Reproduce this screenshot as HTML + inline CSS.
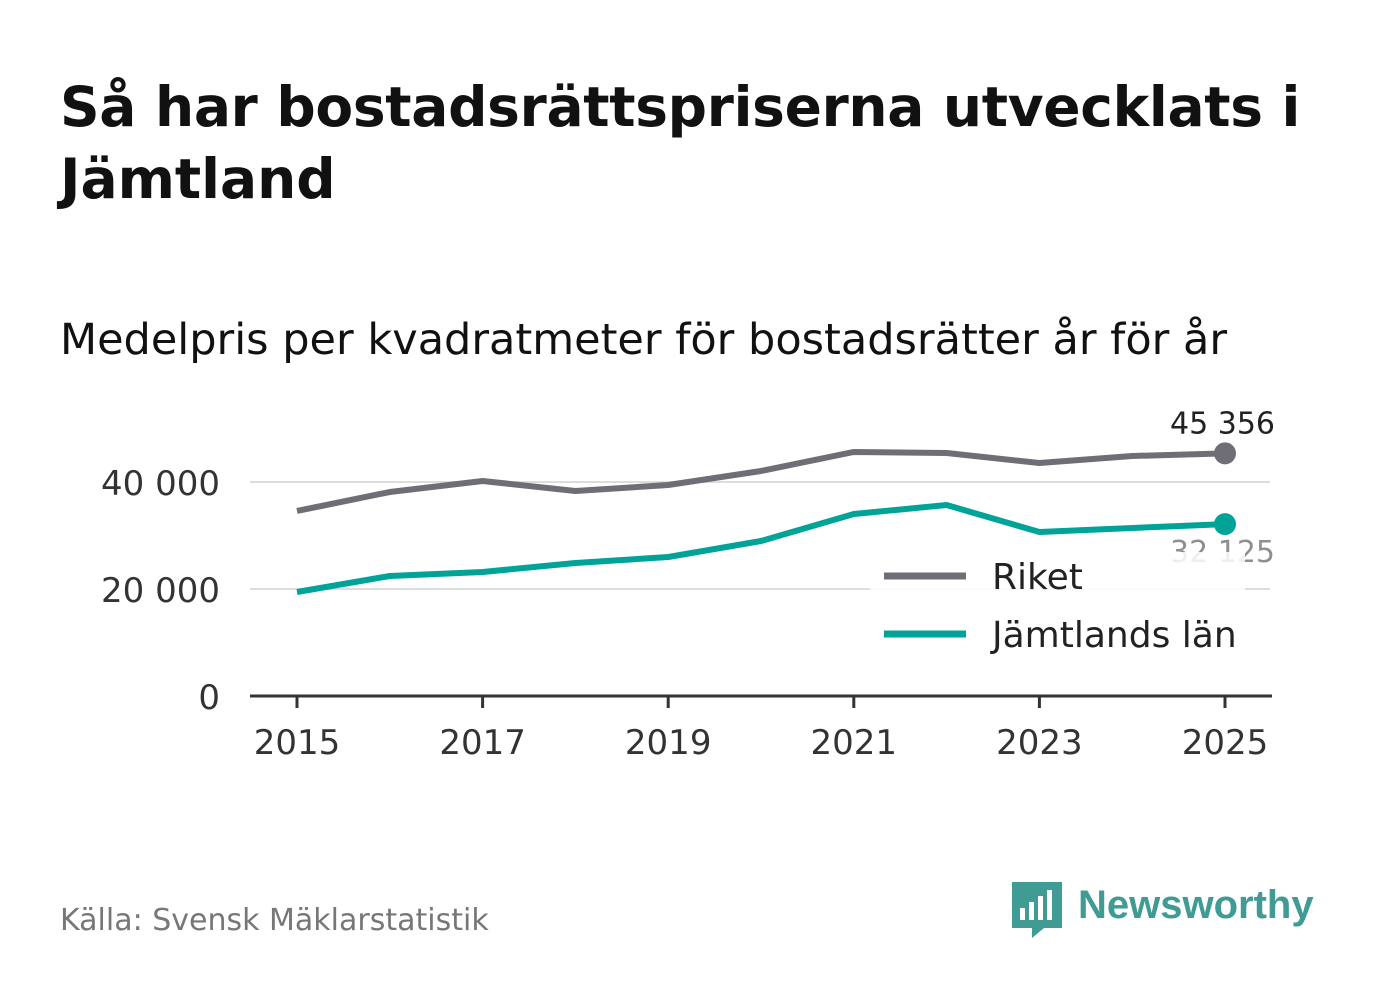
<!DOCTYPE html>
<html><head><meta charset="utf-8"><style>
body{margin:0;background:#fff;width:1382px;height:999px;overflow:hidden;font-family:"DejaVu Sans","Liberation Sans",sans-serif;}
</style></head><body>
<svg width="1382" height="999">
<text x="60" y="126" font-size="55" font-weight="bold" fill="#111" letter-spacing="-0.3">Så har bostadsrättspriserna utvecklats i</text>
<text x="60" y="198" font-size="55" font-weight="bold" fill="#111">Jämtland</text>
<text x="60" y="354" font-size="43" fill="#111">Medelpris per kvadratmeter för bostadsrätter år för år</text>
<g id="plot"></g>
<text x="60" y="930" font-size="30" fill="#777">Källa: Svensk Mäklarstatistik</text>
<g>
<path d="M1012 882h50v46h-18l-12 10v-10h-20z" fill="#3f9b93"/>
<rect x="1020" y="908" width="5" height="12" fill="#fff"/><rect x="1029" y="902" width="5" height="18" fill="#fff"/><rect x="1038" y="896" width="5" height="24" fill="#fff"/><rect x="1047" y="890" width="5" height="30" fill="#fff"/>
<text x="1078" y="918" font-size="40" font-weight="bold" fill="#3f9b93" font-family="Liberation Sans, sans-serif">Newsworthy</text>
</g>
</svg>
<script>
const years=[2015,2016,2017,2018,2019,2020,2021,2022,2023,2024,2025];
const riket=[34580,38130,40190,38320,39440,42060,45610,45420,43550,44860,45356];
const jamt=[19440,22430,23180,24860,25980,28970,34020,35700,30650,31400,32125];
const yTicks=[0,20000,40000];
const xTicks=[2015,2017,2019,2021,2023,2025];
const fmt=v=>v.toLocaleString('en-US').replace(/,/g,' ');
const X=y=>297+(y-2015)*92.8;
const Y=v=>696-v*107/20000;
const g=document.getElementById('plot');const NS='http://www.w3.org/2000/svg';
function mk(t,a,txt){const e=document.createElementNS(NS,t);for(const k in a)e.setAttribute(k,a[k]);if(txt!==undefined)e.textContent=txt;g.appendChild(e);return e;}
yTicks.forEach(v=>{
 if(v>0){const l=mk('line',{x1:250,x2:1270,y1:Y(v),y2:Y(v),stroke:'#ddd','stroke-width':2});
 
 }
 const t=mk('text',{x:220,y:Y(v)+13,'font-size':34,fill:'#333','text-anchor':'end'},fmt(v));
 
 
});
const ax=mk('line',{x1:250,x2:1272,y1:696,y2:696,stroke:'#333','stroke-width':3});


xTicks.forEach(y=>{
 const tk=mk('line',{x1:X(y),x2:X(y),y1:696,y2:708,stroke:'#333','stroke-width':3});
 
 
 const t=mk('text',{x:X(y),y:754,'font-size':34,fill:'#333','text-anchor':'middle'},y);
 
 
});
function series(d,c,name){
 const p=mk('polyline',{points:d.map((v,i)=>X(years[i])+','+Y(v)).join(' '),fill:'none',stroke:c,'stroke-width':6,'stroke-linejoin':'round'});
 
 
 const n=d.length-1;
 const c1=mk('circle',{cx:X(years[n]),cy:Y(d[n]),r:11,fill:c});
 
 
}
series(riket,'#6f6e76','riket');
series(jamt,'#00a398','jamtland');
const n=years.length-1;
let t=mk('text',{x:1275,y:Y(riket[n])-20,'font-size':30,fill:'#222','text-anchor':'end'},fmt(riket[n]));


t=mk('text',{x:1275,y:Y(jamt[n])+38,'font-size':30,fill:'#222','text-anchor':'end',opacity:0.5},fmt(jamt[n]));


const bg=mk('rect',{x:870,y:552,width:375,height:110,fill:'#fff',opacity:0.85});


[['Riket','#6f6e76',576],['Jämtlands län','#00a398',634]].forEach(([lab,c,y])=>{
 const l=mk('line',{x1:884,x2:966,y1:y,y2:y,stroke:c,'stroke-width':7});
 
 
 const tx=mk('text',{x:992,y:y+13,'font-size':36,fill:'#222'},lab);
 
 
});
</script>
</body></html>
